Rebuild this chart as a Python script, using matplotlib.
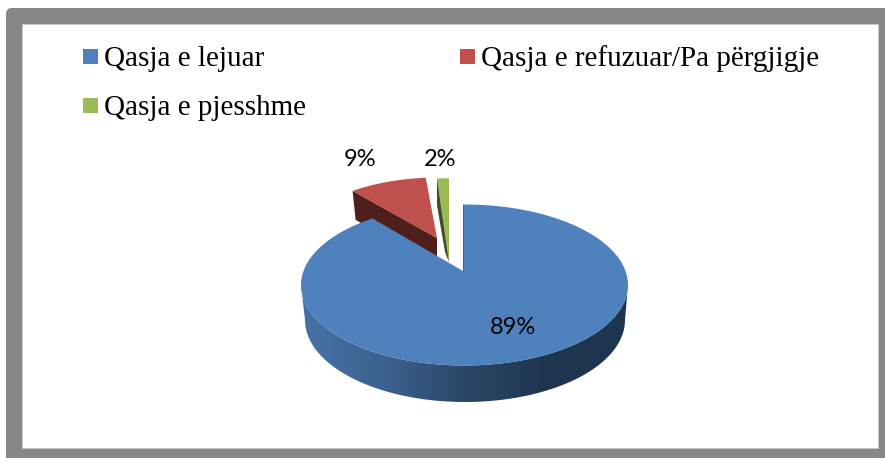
import matplotlib
matplotlib.use('Agg')
import matplotlib.pyplot as plt
import numpy as np
from matplotlib.colors import LinearSegmentedColormap
from matplotlib.patches import FancyBboxPatch, Polygon, Rectangle

categories = ['Qasja e lejuar', 'Qasja e refuzuar/Pa përgjigje', 'Qasja e pjesshme']
shares = [89, 9, 2]
pct_labels = ['89%', '9%', '2%']

top_colors = ['#4F81BD', '#C0504D', '#9BBB59']
side_colors = [None, '#4F1F1C', '#3F4F24']

# pixel geometry of the tilted pie, everything is in image pixels
rx, ry = 163.5, 80.5
cx, cy = 464.5, 285
apex_offset = (-1.5, -14)
# apex position, scale, tilt and shear of each exploded slice
slices = [((463, 271), 1.0, 0.48, 0.0),
          ((437, 238), 0.91, 0.437, 0.102),
          ((449, 262), 1.26, 0.88, 0.0)]
legend_pos = [(83, 49), (460, 49), (83, 98)]
label_pos = [(513, 328), (360, 160), (440, 160)]


def rim(theta_deg, apex, scale, tilt, shear):
    # walk out from the apex along each pie angle until the rim ellipse is hit
    th = np.radians(theta_deg)
    dx = np.sin(th) + shear * tilt * np.cos(th)
    dy = -tilt * np.cos(th)
    ox, oy = scale * apex_offset[0], scale * apex_offset[1]
    ax_r, ay_r = scale * rx, scale * ry
    a = (dx / ax_r) ** 2 + (dy / ay_r) ** 2
    b = 2 * (ox * dx / ax_r ** 2 + oy * dy / ay_r ** 2)
    c = (ox / ax_r) ** 2 + (oy / ay_r) ** 2 - 1
    t = (-b + np.sqrt(b ** 2 - 4 * a * c)) / (2 * a)
    return apex[0] + t * dx, apex[1] + t * dy


fig = plt.figure(figsize=(8.85, 4.58), dpi=100)
ax = fig.add_axes([0, 0, 1, 1])

# grey frame
ax.add_patch(FancyBboxPatch((6, 8), 890, 460, boxstyle='round,pad=0,rounding_size=6', mutation_scale=1,
                            facecolor='#878787', edgecolor='none', zorder=0))
ax.add_patch(Rectangle((22, 24), 856, 424, facecolor='white', edgecolor='#c8c8c8', linewidth=0.6, zorder=1))

stops = 360 * np.cumsum([0] + shares) / sum(shares)

# exploded small slices go behind the big one
depth = 29
apex, scale, tilt, shear = slices[1]
th = np.linspace(stops[1], stops[2], 40)
x, y = rim(th, apex, scale, tilt, shear)
ax.add_patch(Polygon([(x[0], y[0]), apex, (apex[0], apex[1] + depth), (x[0] + 3, y[0] + depth)],
                     facecolor=side_colors[1], edgecolor='none', zorder=2))
ax.add_patch(Polygon(np.r_[[apex], np.c_[x, y]], facecolor=top_colors[1], edgecolor='none', zorder=3))

apex, scale, tilt, shear = slices[2]
th = np.linspace(stops[2], stops[3], 20)
x, y = rim(th, apex, scale, tilt, shear)
ax.add_patch(Polygon(np.r_[[apex], np.c_[x, y]], facecolor=top_colors[2], edgecolor='none', zorder=3))
ax.add_patch(Polygon([(x[0], y[0]), apex, (apex[0] - 4, apex[1] - 10), (x[0], y[0] + 27)],
                     facecolor=side_colors[2], edgecolor='none', zorder=4))

# side wall of the big slice, shaded left to right
t = np.linspace(np.pi, 2 * np.pi, 120)
upper = np.c_[cx + rx * np.cos(t), cy - ry * np.sin(t)]
lower = np.c_[465 + 160 * np.cos(t), 320 - 82 * np.sin(t)]
wall = Polygon(np.r_[upper, lower[::-1]], facecolor='none', edgecolor='none', zorder=5)
ax.add_patch(wall)
shade = LinearSegmentedColormap.from_list('wall', ['#4873A8', '#3C628F', '#2B4766', '#1E3550', '#1E3550'])
img = ax.imshow(np.linspace(0, 1, 256)[None, :], cmap=shade, extent=(300, 630, 410, 280), aspect='auto', zorder=5)
img.set_clip_path(wall)

# top of the big slice
apex, scale, tilt, shear = slices[0]
th = np.linspace(stops[0], stops[1], 300)
x, y = rim(th, apex, scale, tilt, shear)
ax.add_patch(Polygon(np.r_[[apex], np.c_[x, y]], facecolor=top_colors[0], edgecolor='none', zorder=6))
ax.plot([x[0], apex[0]], [y[0], apex[1]], color='#3A6496', linewidth=0.7, zorder=7)

# legend
for name, color, (lx, ly) in zip(categories, top_colors, legend_pos):
    ax.add_patch(Rectangle((lx, ly), 15, 15, facecolor=color, edgecolor='none', zorder=8))
    ax.text(lx + 21, ly + 17, name, fontsize=21, family='Liberation Serif', color='black',
            ha='left', va='baseline', zorder=8)

for lab, (tx, ty) in zip(pct_labels, label_pos):
    ax.text(tx, ty, lab, fontsize=17, family='Lato', color='black', ha='center', va='center', zorder=8)

ax.set_xlim(0, 885)
ax.set_ylim(458, 0)
ax.axis('off')

fig.savefig('out.png', dpi=100)
